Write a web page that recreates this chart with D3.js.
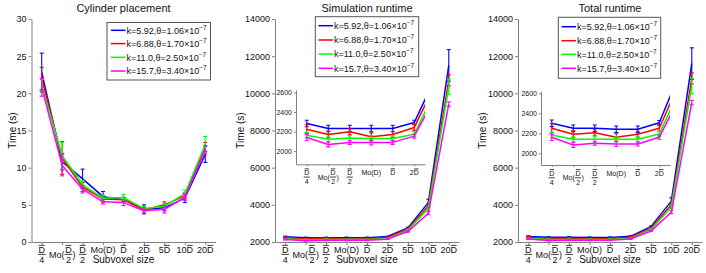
<!DOCTYPE html>
<html><head><meta charset="utf-8">
<script src="https://cdn.jsdelivr.net/npm/d3@7"></script>
<style>
body{margin:0;background:#fff}
svg{display:block;font-family:"Liberation Sans",Arial,Helvetica,sans-serif}
</style></head><body>
<svg id="c" width="706" height="273"></svg>
<script>
// ---------------- DATA ----------------
const categories = ["D/4","Mo(D/2)","D/2","Mo(D)","D","2D","5D","10D","20D"];
const seriesLabels = ["k=5.92,θ=1.06×10","k=6.88,θ=1.70×10","k=11.0,θ=2.50×10","k=15.7,θ=3.40×10"];
const seriesExponent = "−7";
const titles = ["Cylinder placement","Simulation runtime","Total runtime"];
const yLabel = "Time (s)";
const xLabel = "Subvoxel size";
const cylTicks = [0,5,10,15,20,25,30];
const runTicks = [2000,4000,6000,8000,10000,12000,14000];
const insetTicks = [2000,2200,2400,2600];

// Cylinder placement (s)
const cylK592 = [22.8,10.8,8.5,6.1,5.7,4.4,4.6,5.9,11.8];
const cylK592Err = [2.6,1.1,1.3,0.7,0.3,0.6,0.4,0.6,1.1];
const cylK688 = [22.0,11.3,7.4,5.8,5.7,4.3,5.0,6.2,12.8];
const cylK688Err = [1.5,2.2,0.6,0.4,0.3,0.4,0.4,0.4,0.6];
const cylK110 = [21.1,11.6,7.7,5.9,6.0,4.5,4.8,6.5,13.1];
const cylK110Err = [0.75,1.8,0.6,0.4,0.4,0.3,0.3,0.5,1.1];
const cylK157 = [20.8,10.3,7.1,5.4,5.3,4.2,4.4,6.0,12.4];
const cylK157Err = [1.2,1.4,0.5,0.3,0.4,0.4,0.5,0.4,0.6];

// Simulation runtime (s)
const simK592 = [2282,2231,2231,2231,2231,2293,2760,4120,11500];
const simK592Err = [33,33,33,33,33,22,40,180,850];
const simK688 = [2224,2170,2197,2146,2170,2242,2696,3940,10700];
const simK688Err = [45,35,30,40,30,30,40,100,300];
const simK110 = [2163,2122,2133,2130,2130,2173,2629,3810,10350];
const simK110Err = [28,25,25,25,25,25,40,100,420];
const simK157 = [2140,2068,2089,2089,2089,2153,2561,3550,9420];
const simK157Err = [32,25,20,25,20,20,30,80,120];

// Total runtime (s)
const totK592 = [2300,2250,2250,2240,2240,2306,2826,4200,11600];
const totK592Err = [33,33,33,33,33,22,40,180,850];
const totK688 = [2250,2190,2206,2160,2190,2250,2736,4000,10800];
const totK688Err = [45,35,30,40,30,30,40,100,300];
const totK110 = [2183,2140,2140,2140,2140,2193,2660,3880,10400];
const totK110Err = [28,25,25,25,25,25,40,100,420];
const totK157 = [2160,2083,2100,2093,2093,2160,2586,3600,9500];
const totK157Err = [32,25,20,25,20,20,30,80,120];

// ---------------- STYLE ----------------
const colors = ["#0000ff","#ff0000","#00ff00","#ff00ff"];
const axisColor = "#808080";
const textColor = "#111";
const fmt = d3.format("d");

const svg = d3.select("#c");

function styleAxis(a, fs) {
  a.select(".domain").attr("stroke", axisColor).attr("stroke-width", 1);
  a.selectAll(".tick line").attr("stroke", axisColor);
  a.selectAll(".tick text").attr("fill", textColor).style("font-size", fs + "px")
    .style("font-family", '"Liberation Sans",Arial,sans-serif');
}

function drawLabel(g, label, fs, o) {
  let m, parts;
  if ((m = label.match(/^Mo\(D\/(\d+)\)$/))) parts = [{t:"txt", s:"Mo(", y:o.mid}, {t:"frac", den:m[1]}, {t:"txt", s:")", y:o.mid}];
  else if ((m = label.match(/^D\/(\d+)$/))) parts = [{t:"frac", den:m[1]}];
  else if ((m = label.match(/^(\d*)D$/))) parts = [{t:"txt", s:m[1], y:o.nb}, {t:"bar", s:"D", y:o.nb}];
  else parts = [{t:"txt", s:label, y:o.nb}];
  const inner = g.append("g");
  let x = 0;
  const mk = (s, yy, xx) => inner.append("text").attr("x", xx).attr("y", yy).attr("fill", textColor)
      .style("font-size", fs + "px").text(s);
  parts.forEach(p => {
    if (p.t === "txt") {
      if (!p.s) return;
      const t = mk(p.s, p.y, x);
      x += t.node().getComputedTextLength();
    } else if (p.t === "bar") {
      const t = mk(p.s, p.y, x);
      const w = t.node().getComputedTextLength();
      inner.append("line").attr("x1", x + 0.3).attr("x2", x + w - 0.3).attr("y1", o.ov).attr("y2", o.ov)
        .attr("stroke", textColor).attr("stroke-width", 0.8);
      x += w;
    } else {
      const n = mk("D", o.nb, 0), d = mk(p.den, o.db, 0);
      const wn = n.node().getComputedTextLength(), wd = d.node().getComputedTextLength();
      const w = Math.max(wn, wd) + 1.5;
      n.attr("x", x + (w - wn) / 2);
      d.attr("x", x + (w - wd) / 2);
      inner.append("line").attr("x1", x + (w - wn) / 2 + 0.3).attr("x2", x + (w + wn) / 2 - 0.3)
        .attr("y1", o.ov).attr("y2", o.ov).attr("stroke", textColor).attr("stroke-width", 0.8);
      inner.append("line").attr("x1", x + 0.2).attr("x2", x + w - 0.2).attr("y1", o.bar).attr("y2", o.bar)
        .attr("stroke", textColor).attr("stroke-width", 0.8);
      x += w;
    }
  });
  inner.attr("transform", `translate(${-x / 2},0)`);
}

function drawSeries(g, x, y, mean, err, color, lw, cap) {
  const line = d3.line().x((d, i) => x(i + 1)).y(d => y(d));
  g.append("path").datum(mean).attr("d", line).attr("fill", "none")
    .attr("stroke", color).attr("stroke-width", lw).attr("stroke-linejoin", "round");
  const eb = g.append("g").attr("stroke", color).attr("stroke-width", 1.1);
  mean.forEach((v, i) => {
    const cx = x(i + 1), y1 = y(v - err[i]), y2 = y(v + err[i]);
    eb.append("line").attr("x1", cx).attr("x2", cx).attr("y1", y1).attr("y2", y2);
    eb.append("line").attr("x1", cx - cap).attr("x2", cx + cap).attr("y1", y1).attr("y2", y1);
    eb.append("line").attr("x1", cx - cap).attr("x2", cx + cap).attr("y1", y2).attr("y2", y2);
  });
}

function drawLegend(g, L) {
  g.append("rect").attr("x", L.x0).attr("y", L.y0).attr("width", L.x1 - L.x0).attr("height", L.y1 - L.y0)
    .attr("fill", "#fff").attr("stroke", "#555").attr("stroke-width", 1);
  seriesLabels.forEach((s, k) => {
    const yy = L.rows[k];
    g.append("line").attr("x1", L.lx).attr("x2", L.lx + 14.5).attr("y1", yy).attr("y2", yy)
      .attr("stroke", colors[k]).attr("stroke-width", 1.5);
    const t = g.append("text").attr("x", L.lx + 15.5).attr("y", yy + 3.2).attr("fill", textColor).style("font-size", "9px");
    t.append("tspan").text(s);
    t.append("tspan").attr("dy", -4).style("font-size", "6.5px").text(seriesExponent);
  });
}

const mainOff = {ov: 3.4, nb: 10.6, bar: 12.4, db: 20.6, mid: 15.6};
const insOff = {ov: 4.6, nb: 11.2, bar: 12.8, db: 19.8, mid: 15.4};

function drawPanel(p) {
  const g = svg.append("g");
  const x = d3.scaleLinear().domain([0.5, 9.5]).range([p.left, p.right]);
  const y = d3.scaleLinear().domain(p.yDomain).range([p.bottom, p.top]);
  const ya = g.append("g").attr("transform", `translate(${p.left},0)`)
    .call(d3.axisLeft(y).tickValues(p.yTicks).tickFormat(fmt).tickSize(3).tickSizeOuter(0).tickPadding(2));
  styleAxis(ya, 9);
  const xa = g.append("g").attr("transform", `translate(0,${p.bottom})`)
    .call(d3.axisBottom(x).tickValues(d3.range(1, categories.length + 1)).tickSize(3).tickSizeOuter(0).tickFormat(""));
  styleAxis(xa, 9);
  categories.forEach((c, i) => drawLabel(g.append("g").attr("transform", `translate(${x(i + 1)},${p.bottom})`), c, 9, mainOff));
  p.series.forEach((s, k) => drawSeries(g, x, y, s[0], s[1], colors[k], 1.5, 2));
  const cx = (p.left + p.right) / 2;
  g.append("text").attr("x", cx).attr("y", 12).attr("text-anchor", "middle").attr("fill", textColor)
    .style("font-size", "11px").text(p.title);
  g.append("text").attr("x", cx).attr("y", 262.5).attr("text-anchor", "middle").attr("fill", textColor)
    .style("font-size", "10px").text(xLabel);
  g.append("text").attr("transform", `translate(${p.ylx},${(p.top + p.bottom) / 2}) rotate(-90)`)
    .attr("text-anchor", "middle").attr("dy", "0.35em").attr("fill", textColor)
    .style("font-size", "10px").text(yLabel);

  if (p.inset) {
    const I = p.inset;
    const ig = g.append("g");
    const ix = d3.scaleLinear().domain([0.5, 6.5]).range([I.left, I.right]);
    const iy = d3.scaleLinear().domain(I.yDomain).range([I.bottom, I.top]);
    ig.append("rect").attr("x", I.left).attr("y", I.top).attr("width", I.right - I.left).attr("height", I.bottom - I.top).attr("fill", "#fff");
    const iya = ig.append("g").attr("transform", `translate(${I.left},0)`)
      .call(d3.axisLeft(iy).tickValues(insetTicks).tickFormat(fmt).tickSize(2).tickSizeOuter(0).tickPadding(2));
    styleAxis(iya, 7);
    const ixa = ig.append("g").attr("transform", `translate(0,${I.bottom})`)
      .call(d3.axisBottom(ix).tickValues(d3.range(1, 7)).tickSize(2).tickSizeOuter(0).tickFormat(""));
    styleAxis(ixa, 7);
    categories.slice(0, 6).forEach((c, i) => drawLabel(ig.append("g").attr("transform", `translate(${ix(i + 1)},${I.bottom})`), c, 7, insOff));
    const clipId = "clip" + p.id;
    svg.append("clipPath").attr("id", clipId).append("rect")
      .attr("x", I.left).attr("y", I.top - 2).attr("width", I.right - I.left).attr("height", I.bottom - I.top + 2);
    const dg = ig.append("g").attr("clip-path", `url(#${clipId})`);
    p.series.forEach((s, k) => drawSeries(dg, ix, iy, s[0], s[1], colors[k], 1.5, 2));
  }
  drawLegend(g, p.legend);
}

drawPanel({
  id: 1, left: 31.5, right: 215.5, top: 19, bottom: 242, yDomain: [0, 30], yTicks: cylTicks,
  title: titles[0], ylx: 12.5,
  series: [[cylK592, cylK592Err], [cylK688, cylK688Err], [cylK110, cylK110Err], [cylK157, cylK157Err]],
  legend: {x0: 107, x1: 210.5, y0: 22.5, y1: 80, lx: 111, rows: [30.3, 43.6, 57.3, 71]}
});
drawPanel({
  id: 2, left: 275, right: 459, top: 19, bottom: 242, yDomain: [2000, 14000], yTicks: runTicks,
  title: titles[1], ylx: 240.5,
  series: [[simK592, simK592Err], [simK688, simK688Err], [simK110, simK110Err], [simK157, simK157Err]],
  inset: {left: 296, right: 425, top: 90, bottom: 164.3, yDomain: [1865, 2625]},
  legend: {x0: 315.3, x1: 418.7, y0: 16.7, y1: 76.7, lx: 318.5, rows: [25.7, 40, 54, 68.3]}
});
drawPanel({
  id: 3, left: 518, right: 702, top: 19, bottom: 242, yDomain: [2000, 14000], yTicks: runTicks,
  title: titles[2], ylx: 482.5,
  series: [[totK592, totK592Err], [totK688, totK688Err], [totK110, totK110Err], [totK157, totK157Err]],
  inset: {left: 541, right: 670, top: 91.3, bottom: 165, yDomain: [1883, 2620]},
  legend: {x0: 558.3, x1: 660.7, y0: 17.3, y1: 78.3, lx: 561.5, rows: [26.7, 40.7, 54.3, 68.3]}
});
</script>
</body></html>
